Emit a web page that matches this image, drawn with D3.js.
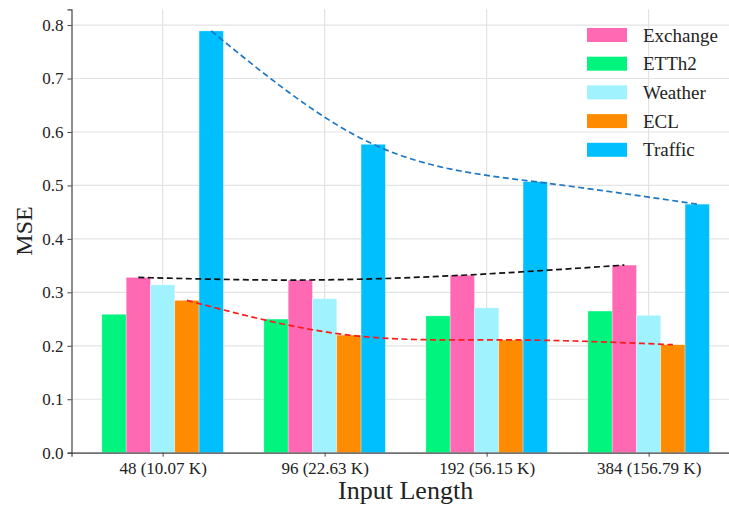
<!DOCTYPE html>
<html lang="en">
<head>
<meta charset="utf-8">
<title>MSE vs input length</title>
<script src="https://d3js.org/d3.v7.min.js"></script>
<style>
  body { margin: 0; background: #fff; }
  text { font-family: "Liberation Serif", "DejaVu Serif", serif; fill: #222; }
</style>
</head>
<body>
<div id="chart"></div>
<script>
// data
var groups = ["48 (10.07 K)", "96 (22.63 K)", "192 (56.15 K)", "384 (156.79 K)"];
var seriesNames = ["ETTh2", "Exchange", "Weather", "ECL", "Traffic"];
var etth2    = [0.259, 0.250, 0.256, 0.265];
var exchange = [0.328, 0.323, 0.332, 0.351];
var weather  = [0.314, 0.288, 0.271, 0.257];
var ecl      = [0.285, 0.220, 0.211, 0.202];
var traffic  = [0.789, 0.577, 0.507, 0.465];
var yTicks = [0.0, 0.1, 0.2, 0.3, 0.4, 0.5, 0.6, 0.7, 0.8];
var legendOrder = ["Exchange", "ETTh2", "Weather", "ECL", "Traffic"];

var values = { ETTh2: etth2, Exchange: exchange, Weather: weather, ECL: ecl, Traffic: traffic };
var colors = { ETTh2: "#00f47e", Exchange: "#ff69b4", Weather: "#a0f2ff", ECL: "#ff8c00", Traffic: "#00bfff" };

var width = 729, height = 507;
var svg = d3.select("#chart").append("svg")
  .attr("width", width)
  .attr("height", height);

var barW = 0.15;
var x = d3.scaleLinear().domain([-0.5625, 3.5625]).range([71.5, 739.75]);
var y = d3.scaleLinear().domain([0, 0.8295]).range([452.7, 9.3]);

// grid
var grid = svg.append("g");
grid.selectAll("line.h").data(yTicks).enter().append("line")
  .attr("x1", x(-0.5625)).attr("x2", x(3.5625))
  .attr("y1", function(d) { return y(d); }).attr("y2", function(d) { return y(d); })
  .attr("stroke", "#e3e3e3").attr("stroke-width", 1.2);
grid.selectAll("line.v").data(groups).enter().append("line")
  .attr("x1", function(d, i) { return x(i); }).attr("x2", function(d, i) { return x(i); })
  .attr("y1", y(0)).attr("y2", y(0.8295))
  .attr("stroke", "#e3e3e3").attr("stroke-width", 1.2);

// bars
seriesNames.forEach(function(name, k) {
  var off = (k - 2) * barW;
  svg.append("g").selectAll("rect").data(values[name]).enter().append("rect")
    .attr("x", function(d, i) { return x(i + off - barW / 2); })
    .attr("width", x(barW) - x(0))
    .attr("y", function(d) { return y(d); })
    .attr("height", function(d) { return y(0) - y(d); })
    .attr("fill", colors[name])
    .attr("stroke", "#ffffff").attr("stroke-opacity", 0.5).attr("stroke-width", 0.6);
});

// dashed trend curves through bar tops
var trends = [
  { name: "Exchange", color: "#111" },
  { name: "ECL", color: "#ff1a1a" },
  { name: "Traffic", color: "#1f77c4" }
];
var line = d3.line().curve(d3.curveNatural)
  .x(function(d) { return x(d[0]); })
  .y(function(d) { return y(d[1]); });
trends.forEach(function(t) {
  var off = (seriesNames.indexOf(t.name) - 2) * barW;
  var pts = values[t.name].map(function(v, i) { return [i + off, v]; });
  svg.append("path")
    .attr("d", line(pts))
    .attr("fill", "none")
    .attr("stroke", t.color)
    .attr("stroke-width", 1.7)
    .attr("stroke-dasharray", "6,3.5");
});

// axes
var yAxis = svg.append("g")
  .attr("transform", "translate(" + x(-0.5625) + ",0)")
  .call(d3.axisLeft(y).tickValues(yTicks).tickFormat(d3.format(".1f")).tickSizeOuter(0).tickSize(4).tickPadding(4));
var xAxis = svg.append("g")
  .attr("transform", "translate(0," + y(0) + ")")
  .call(d3.axisBottom(x).tickValues([0, 1, 2, 3]).tickFormat(function(d) { return groups[d]; })
    .tickSizeOuter(0).tickSize(4).tickPadding(5));
[yAxis, xAxis].forEach(function(a) {
  a.select(".domain").attr("stroke", "#444").attr("stroke-width", 1.2);
  a.selectAll(".tick line").attr("stroke", "#444");
  a.selectAll(".tick text").style("font-family", "Liberation Serif").style("font-size", "17px").attr("fill", "#222");
});

// labels
svg.append("text")
  .attr("x", x(1.5)).attr("y", 499)
  .attr("text-anchor", "middle")
  .style("font-size", "26px")
  .text("Input Length");
svg.append("text")
  .attr("transform", "translate(32,231) rotate(-90)")
  .attr("text-anchor", "middle")
  .style("font-size", "24px")
  .text("MSE");

// legend
var legend = svg.append("g").attr("transform", "translate(587,35)");
legendOrder.forEach(function(name, i) {
  var g = legend.append("g").attr("transform", "translate(0," + (i * 28.7) + ")");
  g.append("rect").attr("x", 0).attr("y", -7).attr("width", 40).attr("height", 14).attr("fill", colors[name]);
  g.append("text").attr("x", 56).attr("y", 6.5).style("font-size", "19px").text(name);
});
</script>
</body>
</html>
